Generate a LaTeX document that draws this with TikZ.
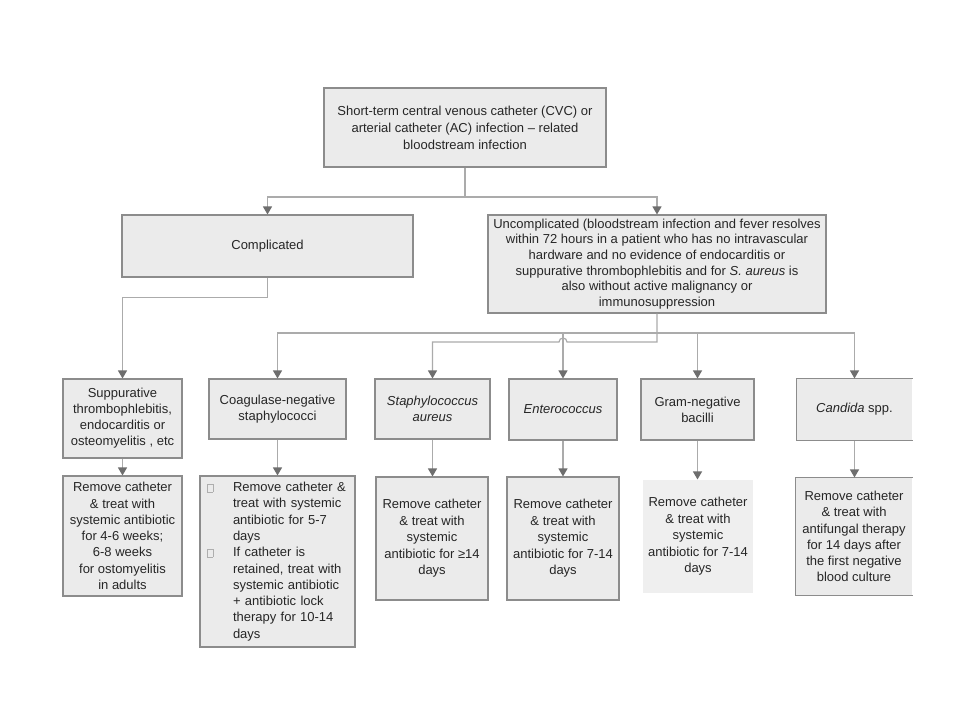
\documentclass[tikz,border=0pt]{standalone}
\usepackage{fontspec}
\setmainfont{Liberation Sans}
\usetikzlibrary{arrows.meta}
\definecolor{boxfill}{HTML}{EBEBEB}
\definecolor{boxline}{HTML}{8C8C8C}
\definecolor{conn}{HTML}{ABABAB}
\definecolor{tipc}{HTML}{6E6E6E}
\definecolor{txt}{HTML}{262626}
\newcommand{\sqb}{{\color{boxline!70}\setlength{\fboxsep}{0pt}\setlength{\fboxrule}{0.5pt}\fbox{\rule{0pt}{7pt}\rule{5pt}{0pt}}}}
\newcommand{\li}[2]{\makebox[28pt][l]{\hspace{2pt}#1}#2}
\begin{document}
\begin{tikzpicture}[x=1pt,y=-1pt,
  box/.style={draw=boxline, fill=boxfill, line width=1.1pt, align=center, inner sep=2pt, text=txt, font=\fontsize{13}{16}\selectfont},
  plainbox/.style={box, draw=none},
  arr/.style={draw=conn, line width=1.2pt, -{Triangle[width=9pt,length=8pt,color=tipc]}},
  ln/.style={draw=conn, line width=1.2pt},
  edge3/.style={draw=boxline, line width=1.1pt}]
\useasboundingbox[fill=white] (0,0) rectangle (960,720);

% level 0
\node[box, minimum width=282pt, minimum height=79pt, font=\fontsize{13}{17}\selectfont] (top) at (465,127.5)
  {Short-term central venous catheter (CVC) or\\arterial catheter (AC) infection – related\\bloodstream infection};

% level 1
\node[box, minimum width=291pt, minimum height=62pt] (comp) at (267.5,246) {Complicated};
\node[box, minimum width=338pt, minimum height=98pt, font=\fontsize{13}{15.6}\selectfont] (uncomp) at (657,264)
  {Uncomplicated (bloodstream infection and fever resolves\\within 72 hours in a patient who has no intravascular\\hardware and no evidence of endocarditis or\\suppurative thrombophlebitis and for \textit{S. aureus} is\\also without active malignancy or\\immunosuppression};

% level 2
\node[box, minimum width=119pt, minimum height=79pt] (supp) at (122.5,418.5)
  {Suppurative\\thrombophlebitis,\\endocarditis or\\osteomyelitis , etc};
\node[box, minimum width=137pt, minimum height=60pt] (coag) at (277.5,409) {Coagulase-negative\\staphylococci};
\node[box, minimum width=115pt, minimum height=60pt] (sa) at (432.5,409) {\textit{Staphylococcus}\\\textit{aureus}};
\node[box, minimum width=108pt, minimum height=61pt] (ent) at (563,409.5) {\textit{Enterococcus}};
\node[box, minimum width=113pt, minimum height=61pt] (gnb) at (697.5,409.5) {Gram-negative\\bacilli};
\node[plainbox, minimum width=115pt, minimum height=61pt] (cand) at (854.5,409.5) {\textit{Candida} spp.};
\draw[edge3] (cand.north east) -- (cand.north west) -- (cand.south west) -- (cand.south east);

% level 3
\node[box, minimum width=119pt, minimum height=120pt, font=\fontsize{13}{16.3}\selectfont] (r1) at (122.5,536)
  {Remove catheter\\\& treat with\\systemic antibiotic\\for 4-6 weeks;\\6-8 weeks\\for ostomyelitis\\in adults};
\node[box, text width=145pt, align=left, inner xsep=5pt, minimum height=171pt, font=\fontsize{13}{16.3}\selectfont] (r2) at (277.5,561.5)
  {\li{\sqb}{Remove catheter \&}\\
   \li{}{treat with systemic}\\
   \li{}{antibiotic for 5-7}\\
   \li{}{days}\\
   \li{\sqb}{If catheter is}\\
   \li{}{retained, treat with}\\
   \li{}{systemic antibiotic}\\
   \li{}{+ antibiotic lock}\\
   \li{}{therapy for 10-14}\\
   \li{}{days}};
\node[box, minimum width=112pt, minimum height=123pt, font=\fontsize{13}{16.5}\selectfont] (r3) at (432,538.5)
  {Remove catheter\\\& treat with\\systemic\\antibiotic for ≥14\\days};
\node[box, minimum width=112pt, minimum height=123pt, font=\fontsize{13}{16.5}\selectfont] (r4) at (563,538.5)
  {Remove catheter\\\& treat with\\systemic\\antibiotic for 7-14\\days};
\node[plainbox, fill=boxfill!80, minimum width=110pt, minimum height=113pt, font=\fontsize{13}{16.5}\selectfont] (r5) at (698,536.5)
  {Remove catheter\\\& treat with\\systemic\\antibiotic for 7-14\\days};
\node[plainbox, minimum width=116pt, minimum height=117pt, font=\fontsize{13}{16.3}\selectfont] (r6) at (854,536.5)
  {Remove catheter\\\& treat with\\antifungal therapy\\for 14 days after\\the first negative\\blood culture};
\draw[edge3] (r6.north east) -- (r6.north west) -- (r6.south west) -- (r6.south east);

% connectors level 0 -> 1
\coordinate (j0) at (465,197);
\draw[ln] (top.south) -- (j0);
\draw[arr] (j0) -| (comp.north);
\draw[arr] (j0) -| (uncomp.north);

% complicated -> suppurative
\draw[arr] (comp.south) -- ++(0,20) -| (supp.north);

% uncomplicated -> organisms
\draw[arr] (uncomp.south) |- (567,342) arc[start angle=0, end angle=180, radius=4pt] -| (sa.north);
\coordinate (ju) at (657,333);
\draw[arr] (ju) -| (coag.north);
\draw[arr] (ju) -| (ent.north);
\draw[arr] (ju) -| (gnb.north);
\draw[arr] (ju) -| (cand.north);

% level 2 -> 3
\draw[arr] (supp.south) -- (supp.south |- r1.north);
\draw[arr] (coag.south) -- (coag.south |- r2.north);
\draw[arr] (sa.south) -- (sa.south |- r3.north);
\draw[arr] (ent.south) -- (ent.south |- r4.north);
\draw[arr] (gnb.south) -- (gnb.south |- r5.north);
\draw[arr] (cand.south) -- (cand.south |- r6.north);
\end{tikzpicture}
\end{document}
